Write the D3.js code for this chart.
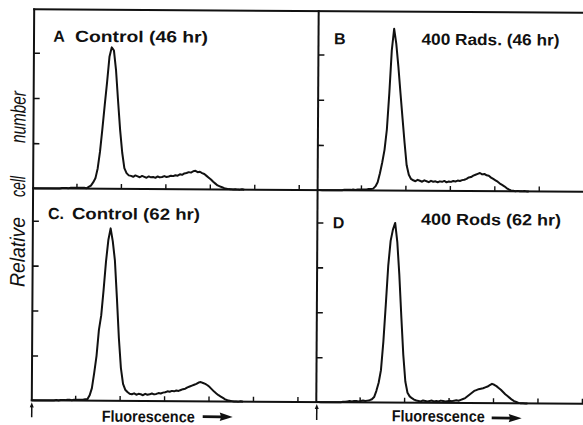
<!DOCTYPE html>
<html>
<head>
<meta charset="utf-8">
<script src="https://cdn.jsdelivr.net/npm/d3@7"></script>
<style>
  html, body { margin: 0; padding: 0; background: #fff; }
  svg { display: block; }
</style>
</head>
<body>
<svg id="chart" width="583" height="425"></svg>
<script>
// DNA content histograms: relative cell number per fluorescence channel
const channels = d3.range(0, 96);

const countsA = [
  0, 0, 0, 0, 0, 0, 0, 0, 0, 0,
  0, 0, 0, 1, 1, 1, 1, 2, 2, 2,
  2, 2, 2, 2, 1, 4, 7, 14, 23, 45,
  82, 132, 185, 236, 292, 313, 306, 262, 194, 130,
  80, 46, 35, 30, 29, 27, 30, 28, 26, 29,
  27, 25, 28, 26, 27, 25, 28, 26, 27, 29,
  27, 28, 30, 29, 31, 30, 33, 32, 35, 36,
  38, 37, 40, 41, 38, 39, 36, 34, 30, 26,
  22, 17, 13, 9, 7, 5, 3, 2, 1, 1,
  0, 1, 0, 0, 1, 0
];

const countsB = [
  0, 0, 0, 0, 0, 0, 0, 0, 0, 0,
  0, 0, 1, 1, 1, 1, 2, 1, 2, 2,
  2, 2, 2, 3, 3, 4, 9, 18, 38, 62,
  90, 135, 215, 310, 358, 325, 275, 217, 161, 106,
  56, 35, 26, 23, 21, 24, 22, 20, 23, 21,
  19, 22, 20, 21, 19, 21, 20, 22, 19, 21,
  20, 22, 21, 23, 22, 24, 25, 27, 30, 31,
  34, 36, 38, 40, 37, 38, 35, 34, 30, 27,
  24, 21, 17, 14, 11, 7, 4, 2, 1, 0,
  1, 0, 0, 1, 0, 0
];

const countsC = [
  0, 0, 0, 0, 0, 0, 0, 0, 0, 0,
  0, 1, 0, 1, 1, 1, 2, 2, 1, 2,
  2, 2, 2, 2, 3, 3, 12, 28, 62, 100,
  158, 190, 247, 310, 358, 384, 355, 313, 230, 140,
  73, 38, 25, 20, 16, 15, 17, 14, 16, 15,
  13, 16, 14, 15, 17, 15, 16, 18, 17, 19,
  20, 22, 21, 23, 22, 24, 23, 25, 27, 28,
  31, 33, 35, 37, 39, 42, 43, 41, 39, 36,
  32, 27, 22, 18, 14, 11, 8, 5, 3, 2,
  1, 0, 0, 0, 1, 0
];

const countsD = [
  0, 0, 0, 0, 0, 0, 0, 0, 0, 0,
  0, 0, 1, 1, 2, 3, 2, 3, 3, 2,
  3, 4, 3, 4, 5, 7, 12, 26, 44, 72,
  135, 218, 305, 360, 385, 400, 358, 285, 193, 107,
  47, 22, 14, 10, 7, 5, 4, 3, 5, 4,
  3, 4, 5, 3, 4, 3, 5, 4, 3, 4,
  5, 4, 5, 6, 5, 7, 9, 11, 15, 19,
  23, 27, 29, 31, 32, 33, 35, 37, 40, 43,
  41, 38, 34, 30, 25, 20, 16, 12, 8, 5,
  3, 1, 0, 0, 0, 0
];

const panelLetters = ["A", "B", "C.", "D"];
const panelTitles = ["Control (46 hr)", "400 Rads. (46 hr)", "Control (62 hr)", "400 Rods (62 hr)"];
const yTicksUpper = [100, 200, 300];
const yTicksLower = [100, 200, 300, 400];
const xTickChannels = [19.5, 39.5, 59.5, 79.5, 99.5, 119.5];
const yLabelWords = ["Relative", "cell", "number"];
const xLabel = "Fluorescence";

// ---- layout ----
const ink = "#111";
const leftX = 33, divX = 317.5, panelW = 284.5, farX = 612;
const topY = 11, midY = 190, botY = 402;

const svg = d3.select("#chart");
svg.append("rect").attr("width", 583).attr("height", 425).attr("fill", "#fff");

// the whole figure sits slightly askew on the page
const g = svg.append("g").attr("transform", "rotate(0.35, 300, 205)");

const panels = [
  { counts: countsA, x0: leftX, base: midY, top: topY, yMax: 396, ticks: yTicksUpper,
    letter: [52.3, 43.2], title: [74, 43.2, 133] },
  { counts: countsB, x0: divX, base: midY, top: topY, yMax: 396, ticks: yTicksUpper,
    letter: [333, 44], title: [420.5, 44, 138] },
  { counts: countsC, x0: leftX, base: botY, top: midY, yMax: 472, ticks: yTicksLower,
    letter: [48, 220.5], title: [72, 220.5, 128] },
  { counts: countsD, x0: divX, base: botY, top: midY, yMax: 472, ticks: yTicksLower,
    letter: [333, 228], title: [421, 224, 140] }
];

// frame
const frameLines = [
  [[leftX, topY], [leftX, botY]],
  [[divX, topY], [divX, botY]],
  [[leftX, topY], [farX, topY]],
  [[leftX, midY], [farX, midY]],
  [[leftX, botY], [farX, botY]]
];
g.selectAll("path.frame").data(frameLines).join("path")
  .attr("class", "frame")
  .attr("d", d => d3.line()(d))
  .attr("fill", "none").attr("stroke", ink).attr("stroke-width", 2)
  .attr("stroke-linecap", "square");

panels.forEach((p, i) => {
  const x = d3.scaleLinear().domain([0, 128]).range([p.x0, p.x0 + panelW]);
  const y = d3.scaleLinear().domain([0, p.yMax]).range([p.base, p.top]);

  // y ticks pointing into the panel
  g.append("g")
    .attr("transform", `translate(${p.x0},0)`)
    .call(d3.axisRight(y).tickValues(p.ticks).tickSize(6).tickFormat(""))
    .call(a => a.select(".domain").remove())
    .call(a => a.selectAll("line").attr("stroke", ink).attr("stroke-width", 1.6));

  // x ticks standing up from the baseline
  g.append("g")
    .attr("transform", `translate(0,${p.base})`)
    .call(d3.axisTop(x).tickValues(xTickChannels).tickSize(5).tickFormat(""))
    .call(a => a.select(".domain").remove())
    .call(a => a.selectAll("line").attr("stroke", ink).attr("stroke-width", 1.4));

  // histogram trace
  const line = d3.line()
    .x((d, k) => x(channels[k]))
    .y(d => y(d));
  g.append("path")
    .datum(p.counts)
    .attr("d", line)
    .attr("fill", "none")
    .attr("stroke", ink)
    .attr("stroke-width", 2)
    .attr("stroke-linejoin", "round");

  // panel letter and condition
  g.append("text")
    .attr("x", p.letter[0]).attr("y", p.letter[1])
    .attr("font-family", "Liberation Sans, Arial, sans-serif")
    .attr("font-weight", "bold").attr("font-size", 16).attr("fill", ink)
    .text(panelLetters[i]);
  g.append("text")
    .attr("x", p.title[0]).attr("y", p.title[1])
    .attr("textLength", p.title[2]).attr("lengthAdjust", "spacingAndGlyphs")
    .attr("font-family", "Liberation Sans, Arial, sans-serif")
    .attr("font-weight", "bold").attr("font-size", 16).attr("fill", ink)
    .text(panelTitles[i]);
});

// small origin markers below each left axis
[[leftX, 404, 419], [divX + 0.5, 404, 420]].forEach(([ax, y1, y2]) => {
  g.append("line").attr("x1", ax).attr("x2", ax).attr("y1", y1 + 3).attr("y2", y2)
    .attr("stroke", ink).attr("stroke-width", 1.5);
  g.append("path")
    .attr("d", `M${ax - 2},${y1 + 5} L${ax},${y1} L${ax + 2},${y1 + 5} Z`)
    .attr("fill", ink);
});

// x-axis captions with arrows
[[103, 422.9, 204, 417.3], [393, 420.8, 493, 416.8]].forEach(([tx, ty, arX, arY]) => {
  g.append("text")
    .attr("x", tx).attr("y", ty)
    .attr("textLength", 93).attr("lengthAdjust", "spacingAndGlyphs")
    .attr("font-family", "Liberation Sans, Arial, sans-serif")
    .attr("font-weight", "bold").attr("font-size", 16).attr("fill", ink)
    .text(xLabel);
  g.append("path")
    .attr("d", `M${arX},${arY - 1.4} L${arX + 18},${arY - 1.4} L${arX + 17},${arY - 4.2}
                L${arX + 30},${arY} L${arX + 17},${arY + 4.2} L${arX + 18},${arY + 1.4}
                L${arX},${arY + 1.4} Z`)
    .attr("fill", ink);
});

// y-axis caption, one word at a time
const yWordPos = [[288.7, 70], [198.7, 21], [144.7, 52]];
yLabelWords.forEach((w, k) => {
  const [yy, len] = yWordPos[k];
  g.append("text")
    .attr("transform", `translate(25,${yy}) rotate(-90)`)
    .attr("textLength", len).attr("lengthAdjust", "spacingAndGlyphs")
    .attr("font-family", "Liberation Sans, Arial, sans-serif")
    .attr("font-style", "italic").attr("font-size", 21).attr("fill", ink)
    .text(w);
});
</script>
</body>
</html>
